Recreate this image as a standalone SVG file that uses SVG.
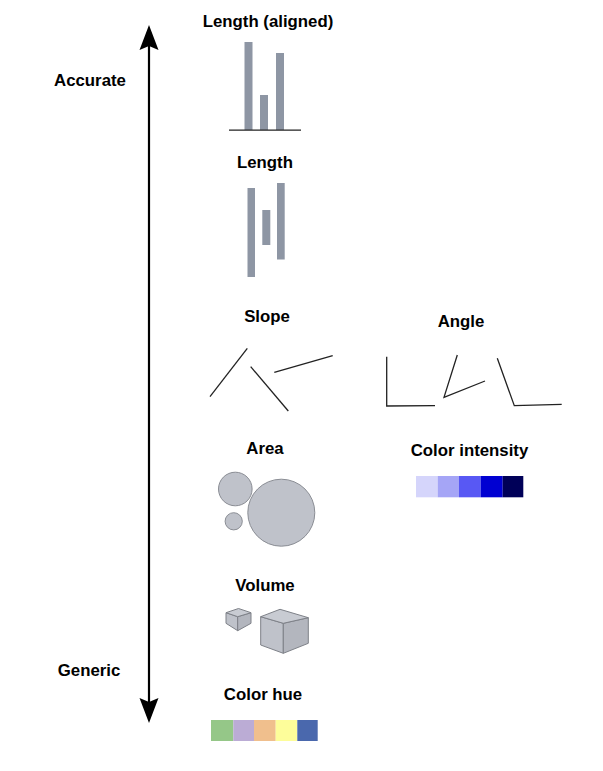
<svg xmlns="http://www.w3.org/2000/svg" width="603" height="771" viewBox="0 0 603 771">
<style>
text{font-family:"Liberation Sans",Arial,sans-serif;font-weight:bold;font-size:16.8px;fill:#000;text-anchor:middle}
.bar{fill:#8e96a4}
.ln{stroke:#222;stroke-width:1.3;fill:none}
.circ{fill:#bfc2ca;stroke:#8a8d94;stroke-width:1}
.cube{fill:#bfc2ca;stroke:#7e8188;stroke-width:1;stroke-linejoin:round}
.cubeR{fill:#b3b6be;stroke:#7e8188;stroke-width:1;stroke-linejoin:round}
.cubeT{fill:#c8cbd2;stroke:#7e8188;stroke-width:1;stroke-linejoin:round}
</style>
<rect width="603" height="771" fill="#fff"/>
<g id="connectors">
<line x1="149" y1="44" x2="149" y2="706" stroke="#000" stroke-width="2.2"/>
<path d="M149 25 L158.5 50 L149 46 L139.5 50 Z" fill="#000"/>
<path d="M149 723 L158.5 698 L149 702 L139.5 698 Z" fill="#000"/>
</g>
<g id="accurate"><text x="90" y="86">Accurate</text></g>
<g id="generic"><text x="89" y="676">Generic</text></g>
<g id="length-aligned">
<text x="268" y="27">Length (aligned)</text>
<rect class="bar" x="244.5" y="42" width="8" height="88"/>
<rect class="bar" x="260" y="95" width="8" height="35"/>
<rect class="bar" x="276" y="53" width="8" height="77"/>
<line x1="229" y1="130.2" x2="301" y2="130.2" stroke="#222" stroke-width="1.2"/>
</g>
<g id="length">
<text x="265" y="168">Length</text>
<rect class="bar" x="247.5" y="188" width="7.5" height="89"/>
<rect class="bar" x="262.3" y="210" width="8" height="35"/>
<rect class="bar" x="277" y="183" width="7.7" height="76.5"/>
</g>
<g id="slope">
<text x="267" y="322">Slope</text>
<line class="ln" x1="247.3" y1="348.3" x2="210" y2="396.7"/>
<line class="ln" x1="250.7" y1="366.7" x2="288.3" y2="411"/>
<line class="ln" x1="274.3" y1="372.3" x2="332.7" y2="355.7"/>
</g>
<g id="angle">
<text x="461" y="327">Angle</text>
<polyline class="ln" points="386.7,356.7 386.7,406 435,405.7"/>
<polyline class="ln" points="457.3,355 444,397.3 485,381"/>
<polyline class="ln" points="497.3,358.3 514.3,405.7 561.7,404.3"/>
</g>
<g id="area">
<text x="265" y="454">Area</text>
<circle class="circ" cx="235.3" cy="489" r="16.8"/>
<circle class="circ" cx="233.7" cy="521.3" r="8.6"/>
<circle class="circ" cx="281.3" cy="512.7" r="33.5"/>
</g>
<g id="color-intensity">
<text x="469.5" y="456">Color intensity</text>
<rect x="416" y="476" width="21.7" height="21.3" fill="#d5d5fb"/>
<rect x="437.7" y="476" width="21.4" height="21.3" fill="#a5a5f6"/>
<rect x="459" y="476" width="21.7" height="21.3" fill="#5858f4"/>
<rect x="480.7" y="476" width="22" height="21.3" fill="#0000d2"/>
<rect x="502.7" y="476" width="20.6" height="21.3" fill="#000058"/>
</g>
<g id="volume">
<text x="265" y="591">Volume</text>
<polygon class="cube" points="226,612.7 237.7,616.7 237.7,630.7 226,623.3"/>
<polygon class="cubeR" points="237.7,616.7 251,612.7 251,623.3 237.7,630.7"/>
<polygon class="cubeT" points="226,612.7 238.5,608.5 251,612.7 237.7,616.7"/>
<polygon class="cube" points="260.7,616.7 283.3,623.3 283.3,653.3 260.7,645"/>
<polygon class="cubeR" points="283.3,623.3 308.3,617.7 308.3,643.3 283.3,653.3"/>
<polygon class="cubeT" points="260.7,616.7 280,609.3 308.3,617.7 283.3,623.3"/>
</g>
<g id="color-hue">
<text x="263" y="700">Color hue</text>
<rect x="211" y="720" width="22.3" height="21" fill="#95c788"/>
<rect x="233.3" y="720" width="20.7" height="21" fill="#bbacd5"/>
<rect x="254" y="720" width="21.7" height="21" fill="#f0bf8d"/>
<rect x="275.7" y="720" width="21.6" height="21" fill="#fdfd9a"/>
<rect x="297.3" y="720" width="20.4" height="21" fill="#4a68ad"/>
</g>
</svg>
